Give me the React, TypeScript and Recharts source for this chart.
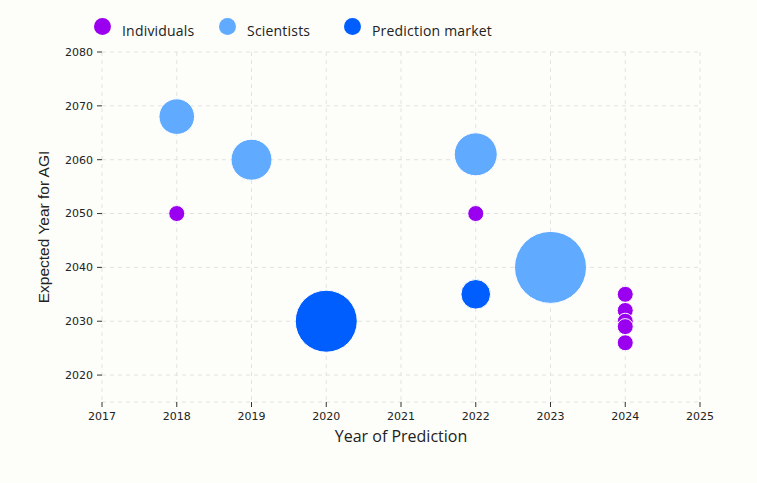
import React from 'react';
import { ScatterChart, Scatter, XAxis, YAxis, ZAxis, CartesianGrid, Legend } from 'recharts';

if (typeof document !== 'undefined') {
  document.body.style.margin = '0';
  document.body.style.background = '#fdfdf9';
}

// Data
const seriesNames = ['Individuals', 'Scientists', 'Prediction market'];
const seriesColors = ['#9a00ef', '#60abff', '#005efe'];

const individualsYear = [2018, 2022, 2024, 2024, 2024, 2024, 2024];
const individualsAGI = [2050, 2050, 2035, 2032, 2030, 2029, 2026];
const individualsSize = [64, 64, 64, 64, 64, 64, 64];

const scientistsYear = [2018, 2019, 2022, 2023];
const scientistsAGI = [2068, 2060, 2061, 2040];
const scientistsSize = [317, 420, 462, 1296];

const marketYear = [2020, 2022];
const marketAGI = [2030, 2035];
const marketSize = [961, 219];

const xTicks = [2017, 2018, 2019, 2020, 2021, 2022, 2023, 2024, 2025];
const yTicks = [2020, 2030, 2040, 2050, 2060, 2070, 2080];

const build = (xs: number[], ys: number[], zs: number[]) =>
  xs.map((x, i) => ({ x, y: ys[i], z: zs[i] }));

const individuals = build(individualsYear, individualsAGI, individualsSize);
const scientists = build(scientistsYear, scientistsAGI, scientistsSize);
const market = build(marketYear, marketAGI, marketSize);

const maxZ = 1296;

const renderLegend = () => {
  return (
    <div style={{ display: 'flex' }}>
      {seriesNames.map((name, i) => (
        <div key={name} style={{ position: 'relative', width: 125, height: 30 }}>
          <span
            style={{
              position: 'absolute',
              left: 0,
              top: 0,
              width: 17,
              height: 17,
              borderRadius: '50%',
              background: seriesColors[i],
            }}
          />
          <span
            style={{
              position: 'absolute',
              left: 28,
              top: 3,
              lineHeight: '19px',
              fontSize: 14,
              fontFamily: '"Open Sans", sans-serif',
              color: '#222',
              whiteSpace: 'nowrap',
              letterSpacing: 0.2,
            }}
          >
            {name}
          </span>
        </div>
      ))}
    </div>
  );
};

const YTitle = (props: any) => {
  const { viewBox } = props;
  const cx = viewBox.x + 11;
  const cy = viewBox.y + viewBox.height / 2;
  return (
    <text
      x={cx}
      y={cy}
      transform={`rotate(-90, ${cx}, ${cy})`}
      textAnchor="middle"
      dominantBaseline="central"
      fontFamily='"Liberation Sans", Arial, sans-serif'
      fontSize={15.5}
      fill="#222"
    >
      Expected Year for AGI
    </text>
  );
};

const XTitle = (props: any) => {
  const { viewBox } = props;
  const cx = viewBox.x + viewBox.width / 2;
  return (
    <text
      x={cx}
      y={442}
      textAnchor="middle"
      fontFamily='"Open Sans", sans-serif'
      fontSize={16}
      fill="#222"
    >
      Year of Prediction
    </text>
  );
};

const tickStyle = { fontFamily: '"DejaVu Sans", sans-serif', fontSize: 11, fill: '#222' };

export default function App() {
  return (
    <div style={{ width: 757, height: 483, background: '#fdfdf9' }}>
      <ScatterChart width={757} height={483} margin={{ top: 52, right: 57, bottom: 51, left: 32 }}>
        <CartesianGrid stroke="#e2e2e2" strokeDasharray="4 4" />
        <XAxis
          type="number"
          dataKey="x"
          domain={[2017, 2025]}
          ticks={xTicks}
          interval={0}
          height={30}
          axisLine={false}
          tickLine={{ stroke: '#333' }}
          tickSize={5}
          tickMargin={5}
          tick={tickStyle}
          label={<XTitle />}
        />
        <YAxis
          type="number"
          dataKey="y"
          domain={[2015, 2080]}
          ticks={yTicks}
          interval={0}
          width={70}
          axisLine={false}
          tickLine={{ stroke: '#333' }}
          tickSize={5}
          tickMargin={4}
          tick={tickStyle}
          label={<YTitle />}
        />
        <ZAxis type="number" dataKey="z" domain={[0, maxZ]} range={[0, maxZ * Math.PI]} />
        <Legend
          layout="horizontal"
          verticalAlign="middle"
          content={renderLegend}
          wrapperStyle={{ top: 18, left: 94, width: 420 }}
        />
        <Scatter name={seriesNames[0]} data={individuals} fill={seriesColors[0]} stroke="#ffffff" strokeWidth={1} isAnimationActive={false} />
        <Scatter name={seriesNames[1]} data={scientists} fill={seriesColors[1]} stroke="#ffffff" strokeWidth={1} isAnimationActive={false} />
        <Scatter name={seriesNames[2]} data={market} fill={seriesColors[2]} stroke="#ffffff" strokeWidth={1} isAnimationActive={false} />
      </ScatterChart>
    </div>
  );
}
